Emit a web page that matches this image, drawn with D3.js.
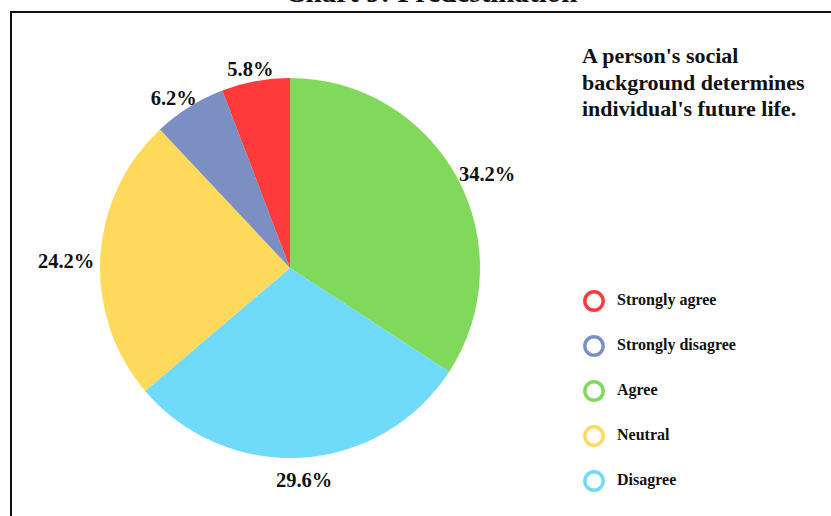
<!DOCTYPE html>
<html>
<head>
<meta charset="utf-8">
<script src="https://cdn.jsdelivr.net/npm/d3@7"></script>
<style>
  html, body { margin: 0; padding: 0; background: #fff; }
  svg { display: block; }
  text { font-family: "Liberation Serif", "DejaVu Serif", serif; font-weight: bold; fill: #111; }
</style>
</head>
<body>
<svg id="chart" width="831" height="516"></svg>
<script>
// Survey responses: order of slices, clockwise from 12 o'clock
const sliceCategories = ["Agree", "Disagree", "Neutral", "Strongly disagree", "Strongly agree"];
const sliceValues = [34.2, 29.6, 24.2, 6.2, 5.8];

// Legend order
const legendCategories = ["Strongly agree", "Strongly disagree", "Agree", "Neutral", "Disagree"];

const categoryColors = {
  "Strongly agree": "#ff3a3a",
  "Strongly disagree": "#7b8fc3",
  "Agree": "#80d95a",
  "Neutral": "#ffd95c",
  "Disagree": "#6fdafa"
};

const captionText = "Chart 9: Predestination";
const statementLines = ["A person's social", "background determines", "individual's future life."];

const svg = d3.select("#chart");

// Caption above the frame (only its lower edge falls inside the page)
svg.append("text")
  .attr("x", 431).attr("y", 2)
  .attr("text-anchor", "middle")
  .style("font-size", "29px")
  .text(captionText);

// Frame
svg.append("rect")
  .attr("x", 11).attr("y", 12)
  .attr("width", 1000).attr("height", 1000)
  .attr("fill", "none")
  .attr("stroke", "#111")
  .attr("stroke-width", 2);

// Pie
const cx = 290, cy = 268, r = 190;
const g = svg.append("g").attr("transform", `translate(${cx},${cy})`);

const data = sliceCategories.map((c, i) => ({ category: c, value: sliceValues[i] }));
const pie = d3.pie().value(d => d.value).sort(null);
const arc = d3.arc().innerRadius(0).outerRadius(r);
const arcs = pie(data);

g.selectAll("path.slice")
  .data(arcs)
  .join("path")
  .attr("class", "slice")
  .attr("d", arc)
  .attr("fill", d => categoryColors[d.data.category]);

// Outside value labels: box placed so its near side faces the pie
const labelGap = 6, labelDrop = 5;
const labels = g.selectAll("text.val")
  .data(arcs)
  .join("text")
  .attr("class", "val")
  .style("font-size", "20.5px")
  .attr("text-anchor", "middle")
  .attr("dominant-baseline", "central")
  .text(d => d.data.value.toFixed(1) + "%");

labels.each(function(d) {
  const a = (d.startAngle + d.endAngle) / 2;
  const bb = this.getBBox();
  const s = Math.sin(a), c = -Math.cos(a);
  const px = s * (r + labelGap), py = c * (r + labelGap);
  d3.select(this)
    .attr("x", px + s * bb.width / 2)
    .attr("y", py + c * bb.height / 2 + labelDrop);
});

// Statement
svg.append("text")
  .attr("x", 582).attr("y", 63)
  .style("font-size", "22px")
  .selectAll("tspan")
  .data(statementLines)
  .join("tspan")
  .attr("x", 582)
  .attr("dy", (d, i) => i === 0 ? 0 : 26.5)
  .text(d => d);

// Legend
const legendY = d3.scalePoint().domain(legendCategories).range([301, 481]);
const items = svg.append("g").selectAll("g.item")
  .data(legendCategories)
  .join("g")
  .attr("class", "item")
  .attr("transform", d => `translate(594,${legendY(d)})`);

items.append("circle")
  .attr("r", 9.2)
  .attr("fill", "#fff")
  .attr("stroke", d => categoryColors[d])
  .attr("stroke-width", 3.4);

items.append("text")
  .attr("x", 23).attr("y", -2)
  .attr("dominant-baseline", "central")
  .style("font-size", "16px")
  .text(d => d);
</script>
</body>
</html>
